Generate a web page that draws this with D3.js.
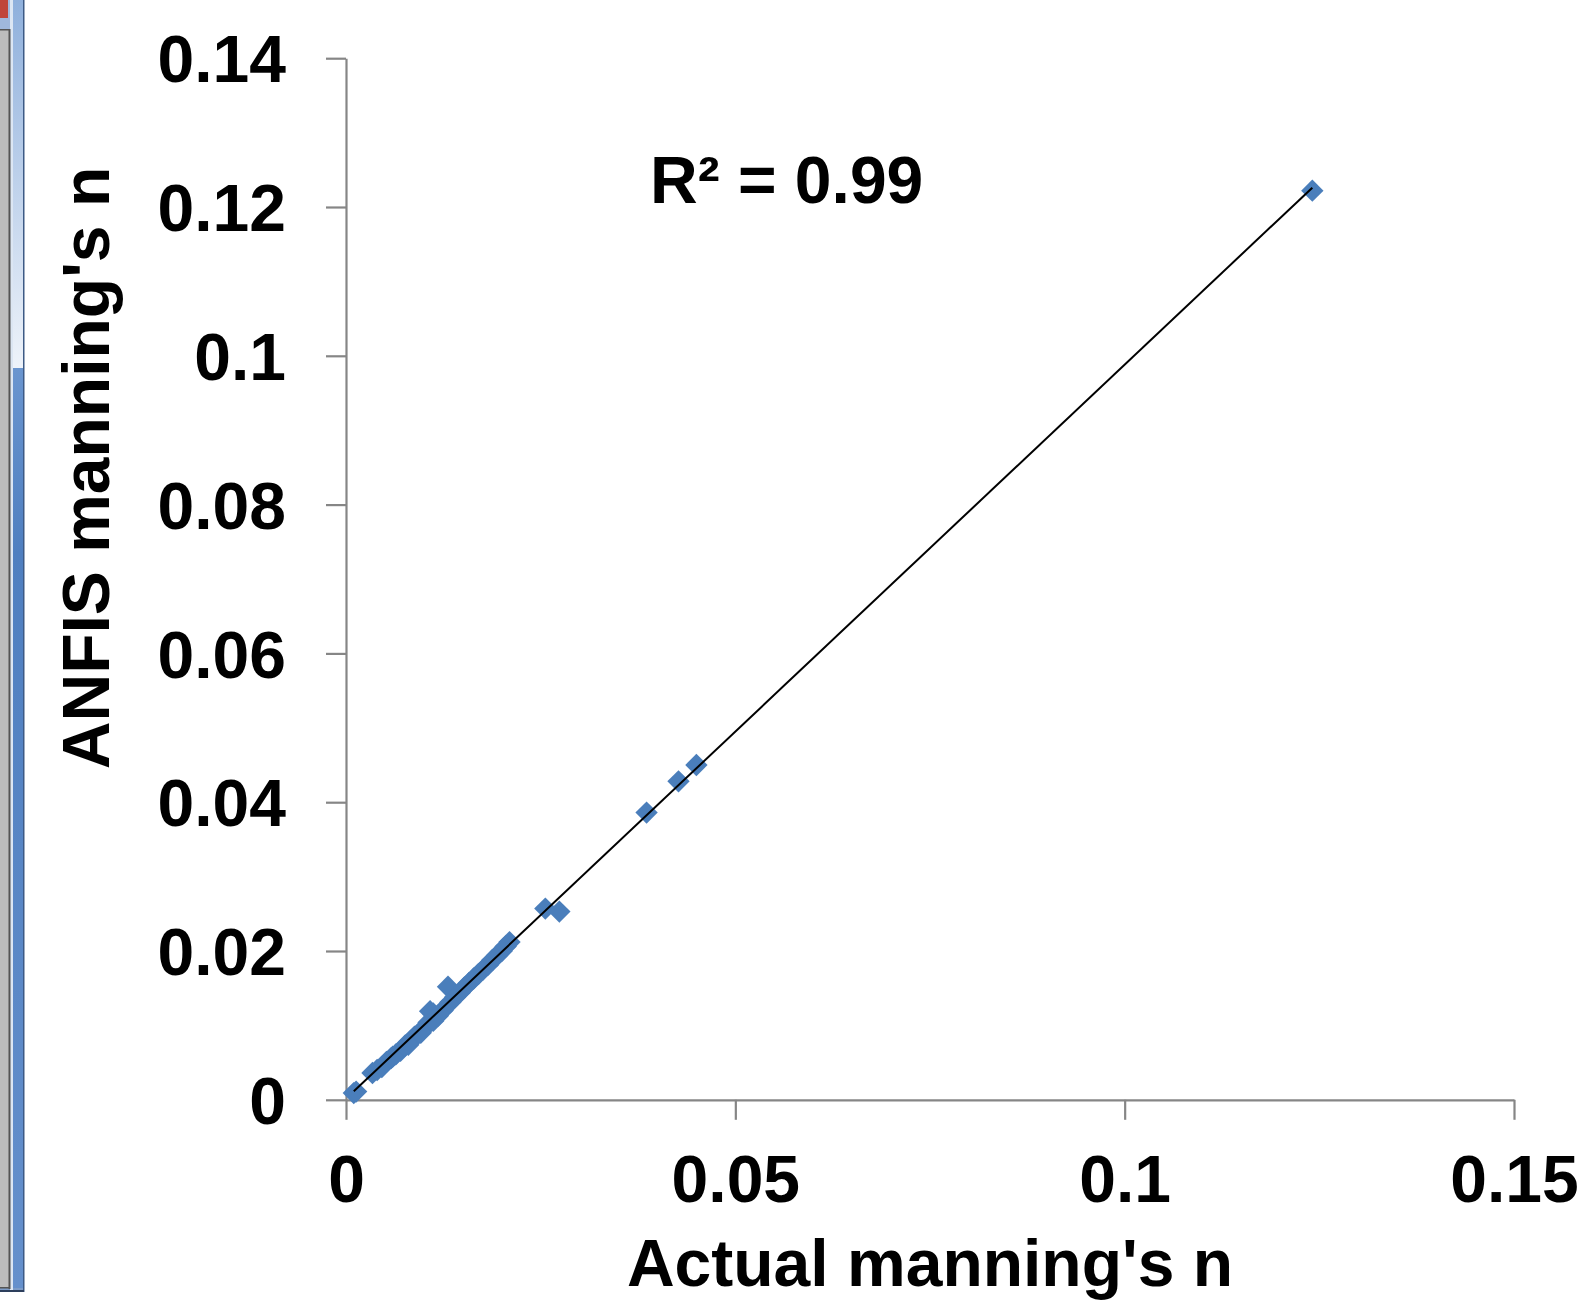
<!DOCTYPE html>
<meta charset="utf-8">
<script src="https://cdnjs.cloudflare.com/ajax/libs/d3/7.8.5/d3.min.js"></script>
<style>
  body { margin: 0; background: #fff; }
  svg text { font-family: "Liberation Sans", Arial, sans-serif; font-weight: bold; fill: #000; }
</style>
<div id="chart"></div>
<script>
// measured values (actual vs ANFIS manning's n)
var actualN = [0.0010, 0.0013, 0.0034, 0.0040, 0.0046, 0.0052, 0.0058, 0.0064, 0.0070, 0.0076,
  0.0082, 0.0088, 0.0094, 0.0100, 0.0106, 0.0108, 0.0112, 0.0118, 0.0124, 0.0131,
  0.0134, 0.0140, 0.0146, 0.0152, 0.0158, 0.0164, 0.0170, 0.0176, 0.0182, 0.0188,
  0.0194, 0.0200, 0.0205, 0.0210, 0.0256, 0.0274, 0.0386, 0.0427, 0.0450, 0.1241,
  0.0080, 0.0096, 0.0112, 0.0060];
var anfisN = [0.0009, 0.0011, 0.0036, 0.0040, 0.0044, 0.0051, 0.0056, 0.0061, 0.0066, 0.0073,
  0.0078, 0.0085, 0.0090, 0.0096, 0.0104, 0.0119, 0.0116, 0.0113, 0.0120, 0.0152,
  0.0131, 0.0138, 0.0144, 0.0151, 0.0157, 0.0163, 0.0169, 0.0175, 0.0181, 0.0188,
  0.0194, 0.0200, 0.0206, 0.0212, 0.0257, 0.0253, 0.0386, 0.0428, 0.0450, 0.1222,
  0.0074, 0.0090, 0.0106, 0.0058];

var xTicks = [0, 0.05, 0.1, 0.15];
var xTickLabels = ["0", "0.05", "0.1", "0.15"];
var yTicks = [0, 0.02, 0.04, 0.06, 0.08, 0.1, 0.12, 0.14];
var yTickLabels = ["0", "0.02", "0.04", "0.06", "0.08", "0.1", "0.12", "0.14"];

// linear trendline
var trendSlope = 0.9866, trendIntercept = 0.00016;
var r2Label = "R² = 0.99";

var W = 1586, H = 1306;
var svg = d3.select("#chart").append("svg").attr("width", W).attr("height", H);

// window frame on the left edge
var defs = svg.append("defs");
var g1 = defs.append("linearGradient").attr("id", "frameTop").attr("x1", 0).attr("y1", 0).attr("x2", 0).attr("y2", 1);
g1.append("stop").attr("offset", "0%").attr("stop-color", "#8fb0dc");
g1.append("stop").attr("offset", "100%").attr("stop-color", "#eef3fa");
var g2 = defs.append("linearGradient").attr("id", "frameLow").attr("x1", 0).attr("y1", 0).attr("x2", 0).attr("y2", 1);
g2.append("stop").attr("offset", "0%").attr("stop-color", "#6a95cf");
g2.append("stop").attr("offset", "20%").attr("stop-color", "#4f7fc0");
g2.append("stop").attr("offset", "100%").attr("stop-color", "#6590cc");

var frame = svg.append("g");
frame.append("rect").attr("x", 0).attr("y", 0).attr("width", 24).attr("height", 1292).attr("fill", "#7d9cc8");
frame.append("rect").attr("x", 13).attr("y", 0).attr("width", 10).attr("height", 368).attr("fill", "url(#frameTop)");
frame.append("rect").attr("x", 13).attr("y", 368).attr("width", 10).attr("height", 920).attr("fill", "url(#frameLow)");
frame.append("rect").attr("x", 10).attr("y", 0).attr("width", 3).attr("height", 1290).attr("fill", "#dce6f3");
frame.append("rect").attr("x", 0).attr("y", 0).attr("width", 10).attr("height", 30).attr("fill", "#9fb8dc");
frame.append("rect").attr("x", 0).attr("y", 0).attr("width", 8).attr("height", 18).attr("fill", "#c0453a");
frame.append("rect").attr("x", 0).attr("y", 30).attr("width", 9).attr("height", 1258).attr("fill", "#bdbdbd");
frame.append("rect").attr("x", 8.5).attr("y", 29).attr("width", 2).attr("height", 1260).attr("fill", "#555");
frame.append("rect").attr("x", 0).attr("y", 29).attr("width", 10).attr("height", 1.5).attr("fill", "#555");
frame.append("rect").attr("x", 0).attr("y", 1287).attr("width", 10).attr("height", 1.5).attr("fill", "#555");
frame.append("rect").attr("x", 23).attr("y", 0).attr("width", 1.5).attr("height", 1292).attr("fill", "#3d5a85");
frame.append("rect").attr("x", 0).attr("y", 1290).attr("width", 24).attr("height", 2).attr("fill", "#2d3f5c");

// scales
var x = d3.scaleLinear().domain([0, 0.15]).range([346, 1514]);
var y = d3.scaleLinear().domain([0, 0.14]).range([1099.8, 58.2]);

var axisColor = "#868686";

var xAxis = svg.append("g").attr("transform", "translate(0," + y(0) + ")")
  .call(d3.axisBottom(x).tickValues(xTicks).tickSize(20).tickSizeOuter(0)
    .tickFormat(function(d, i) { return xTickLabels[i]; }));
var yAxis = svg.append("g").attr("transform", "translate(" + x(0) + ",0)")
  .call(d3.axisLeft(y).tickValues(yTicks).tickSize(20).tickSizeOuter(0)
    .tickFormat(function(d, i) { return yTickLabels[i]; }));

[xAxis, yAxis].forEach(function(a) {
  a.attr("font-family", null).attr("font-size", null);
  a.select(".domain").attr("stroke", axisColor).attr("stroke-width", 2.2);
  a.selectAll(".tick line").attr("stroke", axisColor).attr("stroke-width", 2.2);
  a.selectAll(".tick text").style("font-size", "66px").attr("fill", "#000");
});
xAxis.selectAll(".tick text").attr("y", 102).attr("dy", 0);
yAxis.selectAll(".tick text").attr("x", -60).attr("dy", "0.36em");

// points
var pts = actualN.map(function(v, i) { return { a: v, b: anfisN[i] }; });
var diamond = d3.symbol().type(d3.symbolSquare).size(250);
svg.append("g").selectAll("path").data(pts).enter().append("path")
  .attr("d", diamond)
  .attr("transform", function(d) { return "translate(" + x(d.a) + "," + y(d.b) + ") rotate(45)"; })
  .attr("fill", "#4a7ebb");

// trendline on top of the markers
var xMin = d3.min(actualN), xMax = d3.max(actualN);
svg.append("line")
  .attr("x1", x(xMin)).attr("y1", y(trendSlope * xMin + trendIntercept))
  .attr("x2", x(xMax)).attr("y2", y(trendSlope * xMax + trendIntercept))
  .attr("stroke", "#000").attr("stroke-width", 2);

// labels
svg.append("text").attr("x", 650).attr("y", 203).style("font-size", "66px").text(r2Label);
svg.append("text").attr("x", 930).attr("y", 1286).attr("text-anchor", "middle")
  .style("font-size", "66px").text("Actual manning's n");
svg.append("text").attr("transform", "translate(109,468) rotate(-90)").attr("text-anchor", "middle")
  .style("font-size", "66px").text("ANFIS manning's n");
</script>
